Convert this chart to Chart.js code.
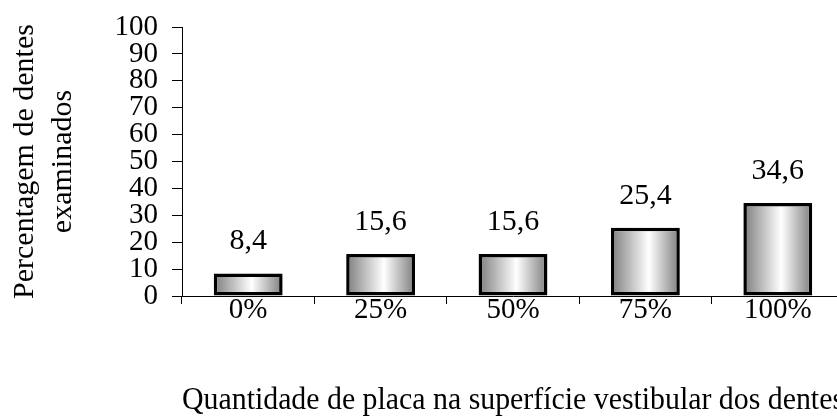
<!DOCTYPE html>
<html><head><meta charset="utf-8">
<script src="https://cdn.jsdelivr.net/npm/chart.js@4/dist/chart.umd.min.js"></script>
<style>
html,body{margin:0;padding:0;background:#fff;overflow:hidden;width:837px;height:419px}
#wrap{position:relative;width:852px;height:419px}
</style></head><body>
<div id="wrap"><canvas id="c"></canvas></div>
<script>
const categories = ['0%', '25%', '50%', '75%', '100%'];
const values = [8.4, 15.6, 15.6, 25.4, 34.6];
const yMin = 0, yMax = 100, yStep = 10;
const xTitle = 'Quantidade de placa na superfície vestibular dos dentes';
const yTitle = ['Percentagem de dentes', 'examinados'];

const FONT = '"Liberation Serif", "Times New Roman", serif';

function barGradient(ctx) {
  const chart = ctx.chart;
  const xs = chart.scales.x;
  if (!xs || ctx.dataIndex === undefined) return '#cccccc';
  const cx = xs.getPixelForValue(ctx.dataIndex);
  const catW = xs.width / categories.length;
  const w = catW * 0.52;
  if (!isFinite(cx) || !isFinite(w) || w <= 0) return '#cccccc';
  const g = chart.ctx.createLinearGradient(cx - w / 2, 0, cx + w / 2, 0);
  g.addColorStop(0, '#7d7d7d');
  g.addColorStop(0.55, '#ffffff');
  g.addColorStop(1, '#7d7d7d');
  return g;
}

const valueLabels = {
  id: 'valueLabels',
  afterDatasetsDraw(chart) {
    const c = chart.ctx;
    const meta = chart.getDatasetMeta(0);
    c.save();
    c.font = '30px ' + FONT;
    c.fillStyle = '#000';
    c.textAlign = 'center';
    c.textBaseline = 'middle';
    meta.data.forEach((el, i) => {
      c.fillText(String(values[i]).replace('.', ','), el.x, el.y - 32);
    });
    c.restore();
  }
};

new Chart(document.getElementById('c'), {
  type: 'bar',
  data: {
    labels: categories,
    datasets: [{
      data: values,
      backgroundColor: barGradient,
      borderColor: '#000',
      borderWidth: 3.5,
      borderSkipped: false,
      barPercentage: 0.52,
      categoryPercentage: 1
    }]
  },
  options: {
    responsive: true,
    maintainAspectRatio: false,
    animation: false,
    devicePixelRatio: 1,
    layout: { padding: { top: 27, right: 8, left: 0, bottom: 0 } },
    plugins: { legend: { display: false }, tooltip: { enabled: false } },
    scales: {
      x: {
        offset: true,
        grid: { display: true, drawOnChartArea: false, drawTicks: true, tickLength: 8, color: '#000', offset: true },
        border: { color: '#000', width: 1 },
        ticks: { font: { family: FONT, size: 29 }, color: '#000', padding: -11, maxRotation: 0 },
        title: { display: true, text: xTitle, font: { family: FONT, size: 31 }, color: '#000', padding: { top: 65, bottom: 0 } }
      },
      y: {
        min: yMin, max: yMax,
        grid: { display: true, drawOnChartArea: false, drawTicks: true, tickLength: 10, color: '#000' },
        border: { color: '#000', width: 1 },
        ticks: { stepSize: yStep, autoSkip: false, font: { family: FONT, size: 29, lineHeight: 0.9 }, color: '#000', padding: 14 },
        title: { display: true, text: yTitle, font: { family: FONT, size: 30, lineHeight: 1.27 }, color: '#000', padding: { top: 6, bottom: 0 } },
        afterFit(scale) { scale.width = 182; }
      }
    }
  },
  plugins: [valueLabels]
});
</script>
</body></html>
